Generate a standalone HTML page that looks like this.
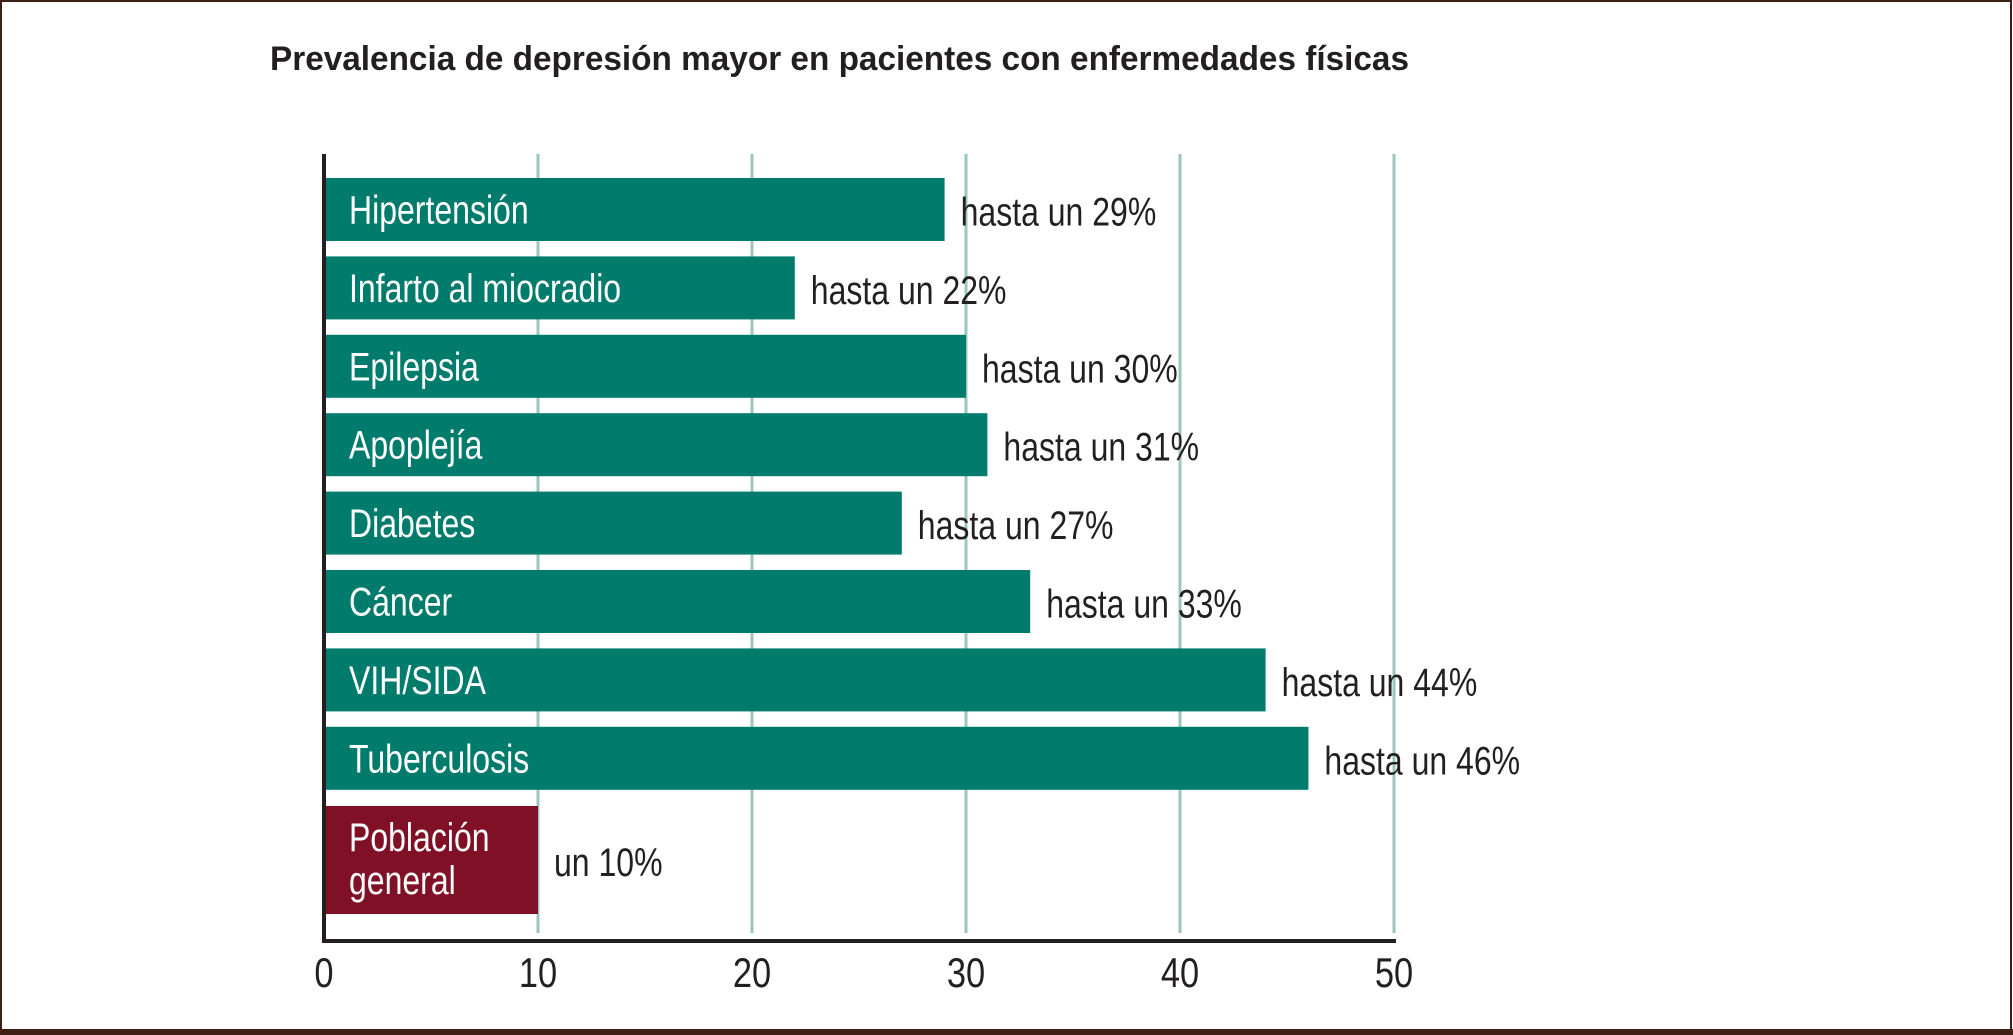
<!DOCTYPE html>
<html><head><meta charset="utf-8"><style>
html,body{margin:0;padding:0;background:#fff;}
svg{display:block;}
text{font-family:"Liberation Sans Narrow","Liberation Sans",sans-serif;}
</style></head><body>
<svg id="chart" width="2013" height="1035" viewBox="0 0 2013 1035">
<rect x="1" y="1" width="2010" height="1031" fill="#fff" stroke="#3d1f14" stroke-width="2"/>
<rect x="0" y="1029" width="2013" height="6" fill="#3d1f14"/>
<text x="270" y="70" font-size="34" font-weight="bold" fill="#231f20" textLength="1139" lengthAdjust="spacingAndGlyphs">Prevalencia de depresión mayor en pacientes con enfermedades físicas</text>
<g id="grid"></g><g id="bars"></g><g id="axes"></g>
</svg>
<script>
const categories=["Hipertensión","Infarto al miocradio","Epilepsia","Apoplejía","Diabetes","Cáncer","VIH/SIDA","Tuberculosis","Población general"];
const values=[29,22,30,31,27,33,44,46,10];
const valueLabels=["hasta un 29%","hasta un 22%","hasta un 30%","hasta un 31%","hasta un 27%","hasta un 33%","hasta un 44%","hasta un 46%","un 10%"];
const ticks=[0,10,20,30,40,50];
const NS="http://www.w3.org/2000/svg";
const x0=324,pxPer=21.4,plotTop=154,axisY=941;
function xs(v){return x0+v*pxPer;}
function mk(tag,attrs,parent){const e=document.createElementNS(NS,tag);for(const k in attrs)e.setAttribute(k,attrs[k]);parent.appendChild(e);return e;}
const grid=document.getElementById('grid'),bars=document.getElementById('bars'),axes=document.getElementById('axes');
ticks.forEach((t,i)=>{
  if(t>0){const l=mk('line',{x1:xs(t),x2:xs(t),y1:plotTop,y2:axisY-8,stroke:'#9cc5c0','stroke-width':3},grid);
  
  }
  const tx=mk('text',{transform:`translate(${xs(t)},${987}) scale(0.82,1)`,'text-anchor':'middle','font-size':42,fill:'#231f20'},axes);
  tx.textContent=t;
  
  
});
const ax=mk('line',{x1:x0,x2:x0,y1:plotTop,y2:axisY+2,stroke:'#231f20','stroke-width':4},axes);


const ax2=mk('line',{x1:x0-2,x2:xs(50)+2,y1:axisY,y2:axisY,stroke:'#231f20','stroke-width':4},axes);


categories.forEach((c,i)=>{
  const last=i===categories.length-1;
  const y=last?806:178+i*78.4;
  const h=last?108:63;
  const r=mk('rect',{x:x0+2,y:y,width:xs(values[i])-x0-2,height:h,fill:last?'#7f1026':'#007b6c'},bars);
  
  
  const lines=last?["Población","general"]:[c];
  lines.forEach((ln,j)=>{
    const ty=last?y+45+j*43:y+h/2+14;
    const t=mk('text',{transform:`translate(${x0+25},${ty}) scale(0.8,1)`,'font-size':40,fill:'#fff'},bars);
    t.textContent=ln;
    
    
  });
  const v=mk('text',{transform:`translate(${xs(values[i])+16},${y+h/2+16}) scale(0.8,1)`,'font-size':40,fill:'#231f20'},bars);
  v.textContent=valueLabels[i];
  
  
});
</script>
</body></html>
